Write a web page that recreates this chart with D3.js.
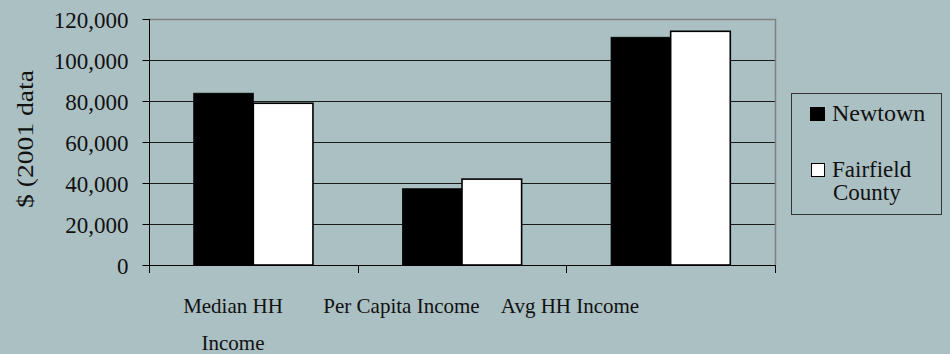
<!DOCTYPE html>
<html>
<head>
<meta charset="utf-8">
<script src="https://cdn.jsdelivr.net/npm/d3@7/dist/d3.min.js"></script>
<style>
  html, body { margin: 0; padding: 0; background: #abc0c3; }
  svg { display: block; }
</style>
</head>
<body>
<svg id="chart" width="950" height="354"></svg>
<script>
// Income comparison, 2001 data
const categories = ["Median HH Income", "Per Capita Income", "Avg HH Income"];
const categoryLines = [["Median HH", "Income"], ["Per Capita Income"], ["Avg HH Income"]];
const seriesNames = ["Newtown", "Fairfield County"];
const newtown = [83800, 37200, 111100];
const fairfield = [78900, 41900, 114000];
const yTicks = [0, 20000, 40000, 60000, 80000, 100000, 120000];

const seriesValues = [newtown, fairfield];
const seriesFill = ["#000000", "#ffffff"];
const FONT = "'Liberation Serif', 'Times New Roman', Times, 'DejaVu Serif', serif";

const plot = { left: 149, right: 775, top: 19, bottom: 265 };

const svg = d3.select("#chart")
  .attr("font-family", FONT)
  .style("font-family", FONT);

const x0 = d3.scaleBand().domain(categories).range([plot.left, plot.right]).paddingInner(0).paddingOuter(0);
const x1 = d3.scaleBand().domain(seriesNames).range([0, x0.bandwidth()]).paddingInner(0).paddingOuter(0.75);
const y = d3.scaleLinear().domain([0, 120000]).range([plot.bottom, plot.top]);

// Horizontal gridlines
svg.append("g")
  .selectAll("line")
  .data(yTicks.filter(v => v > 0 && v < 120000))
  .join("line")
  .attr("x1", plot.left).attr("x2", plot.right)
  .attr("y1", d => Math.round(y(d)) + 0.5).attr("y2", d => Math.round(y(d)) + 0.5)
  .attr("stroke", "#1a1a1a").attr("stroke-width", 1);

// Plot frame: top and right edges in grey
svg.append("path")
  .attr("d", `M${plot.left},${plot.top + 0.5}H${plot.right + 0.5}V${plot.bottom}`)
  .attr("fill", "none").attr("stroke", "#808080").attr("stroke-width", 1.5);

// Bars
const rows = categories.map((c, i) => ({ cat: c, vals: seriesNames.map((s, k) => ({ s, k, v: seriesValues[k][i] })) }));
const groups = svg.append("g").selectAll("g")
  .data(rows).join("g")
  .attr("transform", d => `translate(${x0(d.cat)},0)`);

groups.selectAll("rect")
  .data(d => d.vals)
  .join("rect")
  .attr("x", d => x1(d.s))
  .attr("width", x1.bandwidth())
  .attr("y", d => y(d.v))
  .attr("height", d => y(0) - y(d.v))
  .attr("fill", d => seriesFill[d.k])
  .attr("stroke", "#000")
  .attr("stroke-width", d => d.k === 1 ? 1.6 : 0.8);

// Y axis
const yAxis = svg.append("g")
  .attr("transform", `translate(${plot.left + 0.5},0)`)
  .call(d3.axisLeft(y).tickValues(yTicks).tickSize(7).tickSizeOuter(0).tickPadding(14).tickFormat(d3.format(",")));
yAxis.attr("font-family", FONT).attr("font-size", 23);
yAxis.select(".domain").attr("stroke", "#000").attr("d", `M0,${plot.top}V${plot.bottom + 8}`);
yAxis.selectAll(".tick line").attr("stroke", "#000");
yAxis.selectAll(".tick text")
  .attr("fill", "#111")
  .attr("dy", "0.36em");

// X axis baseline and category boundary ticks
svg.append("line")
  .attr("x1", plot.left).attr("x2", plot.right + 1)
  .attr("y1", plot.bottom + 0.5).attr("y2", plot.bottom + 0.5)
  .attr("stroke", "#000");
const boundaries = categories.map(c => x0(c)).concat([x0.range()[1]]);
svg.append("g").selectAll("line")
  .data(boundaries).join("line")
  .attr("x1", d => Math.round(d) + 0.5).attr("x2", d => Math.round(d) + 0.5)
  .attr("y1", plot.bottom).attr("y2", plot.bottom + 8)
  .attr("stroke", "#000");

// Category labels
const labelX = d3.scalePoint().domain(categories).range([233, 570]);
const labels = svg.append("g").selectAll("text")
  .data(categories).join("text")
  .attr("x", d => labelX(d))
  .attr("y", 313)
  .attr("text-anchor", "middle")
  .attr("font-size", 21)
  .attr("fill", "#111");
labels.each(function(d, i) {
  d3.select(this).selectAll("tspan")
    .data(categoryLines[i]).join("tspan")
    .attr("x", labelX(d))
    .attr("dy", (t, j) => j === 0 ? 0 : 37)
    .text(t => t);
});

// Y axis title
svg.append("text")
  .attr("transform", "translate(33,208) rotate(-90)")
  .attr("font-size", 23)
  .attr("fill", "#111")
  .attr("textLength", 138)
  .attr("lengthAdjust", "spacingAndGlyphs")
  .text("$ (2001 data");

// Legend
const legend = svg.append("g").attr("fill", "#111");
legend.append("rect")
  .attr("x", 791.5).attr("y", 93.5).attr("width", 150).attr("height", 121)
  .attr("fill", "none").attr("stroke", "#333").attr("stroke-width", 1);
legend.append("rect")
  .attr("x", 810).attr("y", 107).attr("width", 15).attr("height", 14)
  .attr("fill", seriesFill[0]);
legend.append("text")
  .attr("x", 832).attr("y", 121).attr("font-size", 24)
  .text("Newtown");
legend.append("rect")
  .attr("x", 811.5).attr("y", 163.5).attr("width", 13).attr("height", 13)
  .attr("fill", seriesFill[1]).attr("stroke", "#000").attr("stroke-width", 1);
legend.append("text")
  .attr("x", 832).attr("y", 177).attr("font-size", 23)
  .text("Fairfield");
legend.append("text")
  .attr("x", 833).attr("y", 200).attr("font-size", 23)
  .text("County");
</script>
</body>
</html>
